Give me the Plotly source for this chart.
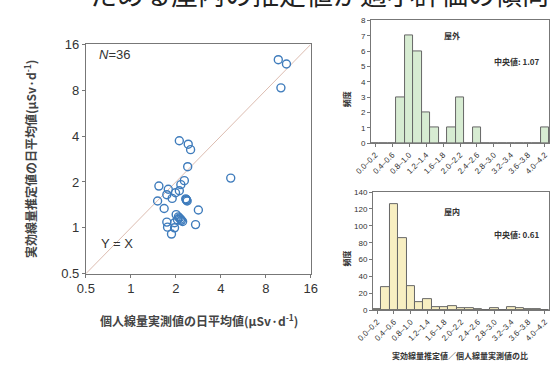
import plotly.graph_objects as go

# ---- data ----
meas_x = [9.7, 11.0, 10.1, 2.11, 2.42, 2.51, 2.40, 4.66, 2.28, 2.16, 1.54, 1.78, 2.11,
          1.99, 1.74, 1.89, 2.35, 2.33, 2.38, 2.36, 1.51, 1.67, 2.83, 2.01, 2.11, 2.15,
          2.08, 2.18, 2.05, 1.74, 1.96, 2.22, 2.71, 1.76, 1.96, 1.87]
est_y = [12.7, 11.9, 8.3, 3.73, 3.54, 3.26, 2.52, 2.12, 2.04, 1.92, 1.88, 1.79, 1.75,
         1.70, 1.65, 1.56, 1.53, 1.55, 1.50, 1.52, 1.50, 1.34, 1.31, 1.22, 1.16, 1.14,
         1.18, 1.12, 1.13, 1.09, 1.08, 1.10, 1.05, 1.01, 1.00, 0.91]
log_ticks = [0.5, 1, 2, 4, 8, 16]
log_tick_text = ["0.5", "1", "2", "4", "8", "16"]

bins = ["0.0-0.2", "0.2-0.4", "0.4-0.6", "0.6-0.8", "0.8-1.0", "1.0-1.2", "1.2-1.4",
        "1.4-1.6", "1.6-1.8", "1.8-2.0", "2.0-2.2", "2.2-2.4", "2.4-2.6", "2.6-2.8",
        "2.8-3.0", "3.0-3.2", "3.2-3.4", "3.4-3.6", "3.6-3.8", "3.8-4.0", "4.0-4.2"]
outdoor_counts = [0, 0, 0, 3, 7, 6, 2, 1, 0, 1, 3, 0, 1, 0, 0, 0, 0, 0, 0, 0, 1]
indoor_counts = [1, 27, 126, 86, 29, 10, 13, 4, 4, 5, 2, 2, 1, 0, 2, 0, 3, 2, 1, 1, 0]
bin_ticks = bins[::2]
bin_tick_text = [b.replace("-", "–") for b in bin_ticks]

JP = "Noto Sans CJK JP"
LAT = "Liberation Sans, Arial, sans-serif"
W, H = 557, 368

def fx(px):
    return px / W

def fy(py):
    return 1 - py / H

fig = go.Figure()

# scatter
fig.add_trace(go.Scatter(
    x=[0.5, 16], y=[0.5, 16], mode="lines",
    line=dict(color="#dcbcb0", width=1), xaxis="x", yaxis="y", hoverinfo="skip"))
fig.add_trace(go.Scatter(
    x=meas_x, y=est_y, mode="markers",
    marker=dict(symbol="circle-open", size=8, color="#3f7cbc", line=dict(width=1.4)),
    xaxis="x", yaxis="y"))

# histograms
fig.add_trace(go.Bar(x=bins, y=outdoor_counts, xaxis="x2", yaxis="y2",
                     marker=dict(color="#d7ecd2", line=dict(color="#666666", width=1))))
fig.add_trace(go.Bar(x=bins, y=indoor_counts, xaxis="x3", yaxis="y3",
                     marker=dict(color="#f8efc2", line=dict(color="#666666", width=1))))

axis_common = dict(showline=True, mirror=True, linecolor="#777777", linewidth=1,
                   ticks="outside", ticklen=3, tickcolor="#777777", showgrid=False,
                   zeroline=False)

fig.update_layout(
    width=W, height=H, margin=dict(l=0, r=0, t=0, b=0),
    paper_bgcolor="white", plot_bgcolor="white", showlegend=False, bargap=0,
    xaxis=dict(domain=[fx(72), fx(307)], type="log", range=[-0.30103, 1.20412],
               tickvals=log_ticks, ticktext=log_tick_text,
               tickfont=dict(family=LAT, size=13, color="#333333"), **axis_common),
    yaxis=dict(domain=[fy(278), fy(39)], type="log", range=[-0.30103, 1.20412],
               tickvals=log_ticks, ticktext=log_tick_text,
               tickfont=dict(family=LAT, size=13, color="#333333"), **axis_common),
    xaxis2=dict(domain=[fx(370), fx(556)], type="category", anchor="y2",
                tickvals=bin_ticks, ticktext=bin_tick_text, tickangle=-45,
                tickfont=dict(family=LAT, size=8, color="#333333"), **axis_common),
    yaxis2=dict(domain=[fy(142), fy(14)], range=[0, 8], dtick=1, anchor="x2",
                tickfont=dict(family=LAT, size=8, color="#333333"), **axis_common),
    xaxis3=dict(domain=[fx(372), fx(556)], type="category", anchor="y3",
                tickvals=bin_ticks, ticktext=bin_tick_text, tickangle=-45,
                tickfont=dict(family=LAT, size=8, color="#333333"), **axis_common),
    yaxis3=dict(domain=[fy(316), fy(193)], range=[0, 140], dtick=20, anchor="x3",
                tickfont=dict(family=LAT, size=8, color="#333333"), **axis_common),
)

def ann(text, x, y, size, rot=0, family=JP, color="#333333", xanchor="center", yanchor="middle"):
    fig.add_annotation(text=text, xref="paper", yref="paper", x=fx(x), y=fy(y),
                       showarrow=False, textangle=rot, xanchor=xanchor, yanchor=yanchor,
                       font=dict(family=family, size=size, color=color))

# partially cropped heading at top
ann("ためる屋内の推定値が過小評価の傾向", 74, -14, 27, xanchor="left", color="#222222")

ann("<i>N</i>=36", 84, 50, 13, family=LAT, xanchor="left")
ann("Y = X", 86, 247, 13, family=LAT, xanchor="left")
ann("<b>個人線量実測値の日平均値(μSv·d<sup>-1</sup>)</b>", 190, 326, 12, color="#444444")
ann("<b>実効線量推定値の日平均値(μSv·d<sup>-1</sup>)</b>", 13, 158, 12, rot=-90, color="#444444")

ann("<b>屋外</b>", 455, 30, 8)
ann("<b>中央値: 1.07</b>", 548, 57, 8, xanchor="right")
ann("<b>頻度</b>", 344, 96, 8, rot=-90)
ann("<b>屋内</b>", 455, 213, 8)
ann("<b>中央値: 0.61</b>", 548, 237, 8, xanchor="right")
ann("<b>頻度</b>", 344, 262, 8, rot=-90)
ann("<b>実効線量推定値／個人線量実測値の比</b>", 463, 363, 8)

fig.write_html("out.html")
